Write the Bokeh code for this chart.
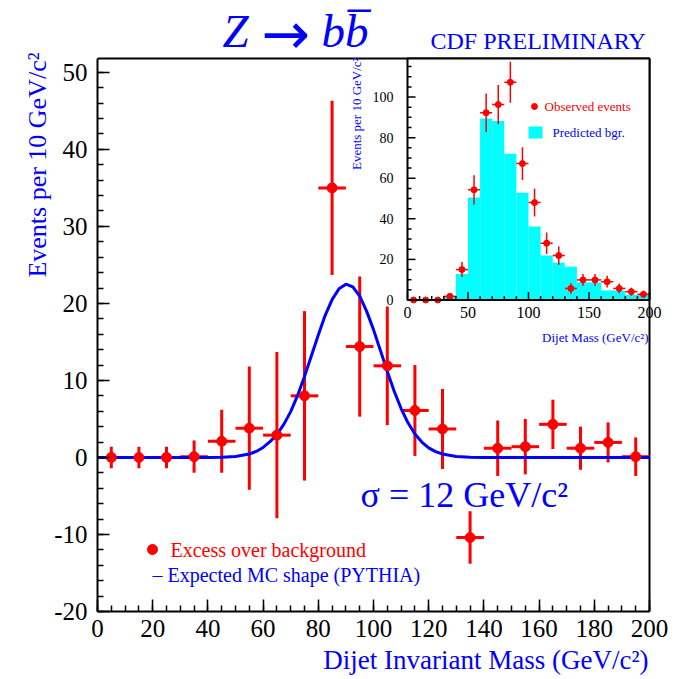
import math
from bokeh.plotting import figure
from bokeh.models import Range1d, FixedTicker, Title, ColumnDataSource, PrintfTickFormatter
from bokeh.core.properties import value
from bokeh.embed import file_html
from bokeh.resources import INLINE

# ---------------- data ----------------
mass = [5, 15, 25, 35, 45, 55, 65, 75, 85, 95, 105, 115, 125, 135, 145, 155, 165, 175, 185, 195]
excess = [0.0, 0.0, 0.0, 0.1, 2.1, 3.8, 2.9, 8.0, 35.0, 14.4, 11.9, 6.1, 3.7, -10.4, 1.2, 1.4, 4.3, 1.2, 1.95, 0.1]
excess_err = [1.4, 1.4, 1.4, 2.1, 4.1, 8.0, 10.8, 11.0, 11.3, 9.1, 7.7, 5.9, 5.2, 3.4, 3.6, 3.6, 3.2, 2.8, 2.6, 2.5]

curve_x = [0, 40, 45, 50, 55, 57.5, 60, 62.5, 65, 67.5, 70, 72.5, 75, 77.5, 80, 82.5, 85, 87.5, 90,
           92.5, 95, 97.5, 100, 102.5, 105, 107.5, 110, 112.5, 115, 117.5, 120, 122.5, 125, 130, 135, 140, 200]
curve_y = [0, 0.01, 0.04, 0.13, 0.45, 0.78, 1.3, 2.05, 3.0, 4.3, 5.95, 8.05, 10.5, 13.2, 15.9, 18.45, 20.5, 21.9, 22.5,
           22.15, 20.95, 19.0, 16.6, 13.9, 11.15, 8.6, 6.35, 4.5, 3.05, 2.0, 1.25, 0.75, 0.45, 0.13, 0.03, 0, 0]

observed = [0, 0, 0, 1.8, 15.0, 54.3, 92.3, 96.3, 107.3, 67.2, 48.0, 28.0, 21.9, 5.7, 9.9, 9.9, 9.0, 5.7, 4.1, 2.8]
observed_err = [0, 0, 0, 1.3, 3.7, 7.2, 9.5, 9.6, 10.1, 8.1, 6.8, 5.3, 4.5, 2.6, 2.9, 2.9, 2.9, 2.4, 2.0, 1.7]
predicted = [0, 0, 0, 1.7, 12.8, 50.5, 89.4, 88.2, 72.1, 52.8, 36.2, 21.9, 18.4, 16.4, 8.7, 8.7, 4.7, 4.7, 2.6, 2.6]

main_xticks = [0, 20, 40, 60, 80, 100, 120, 140, 160, 180, 200]
main_yticks = [-20, -10, 0, 10, 20, 30, 40, 50]
inset_xticks = [0, 50, 100, 150, 200]
inset_yticks = [0, 20, 40, 60, 80, 100]

BIN_HALF = 5

# ---------------- layout constants ----------------
W, H = 678, 679
FL, FB = 97, 611            # frame left / bottom (pixels)
BOX_R, BOX_T = 649, 58      # drawn main box right / top (pixels)
XMIN, XMAX = 0, 200
YMIN, YMAX = -20, 51.8
PXX = (BOX_R - FL) / (XMAX - XMIN)
PXY = (FB - BOX_T) / (YMAX - YMIN)

BLUE = "#0000ff"
RED = "#ff0000"
CYAN = "#00ffff"
FONT = "Liberation Serif"

# inset geometry (pixels of the canvas)
IL, IR, IB, IT = 407, 649, 299.5, 58
IYTOP = 119.0
isx = (IR - IL) / 200.0
isy = (IB - IT) / IYTOP


def dx(X):
    return XMIN + (X - FL) / PXX


def dy(Y):
    return YMIN + (FB - Y) / PXY


def ix(X):
    return (X - IL) / isx


def iy(Y):
    return (IB - Y) / isy


p = figure(width=W, height=H, output_backend="svg", toolbar_location=None,
           x_range=Range1d(XMIN, dx(W)), y_range=Range1d(YMIN, dy(0)),
           min_border_left=FL, min_border_right=0, min_border_top=0, min_border_bottom=H - FB)
p.extra_x_ranges = {"ix": Range1d(ix(FL), ix(W))}
p.extra_y_ranges = {"iy": Range1d(iy(FB), iy(0))}
p.grid.visible = False
p.outline_line_color = None
p.background_fill_color = "white"
p.border_fill_color = "white"

p.xaxis.ticker = FixedTicker(ticks=main_xticks, minor_ticks=list(range(0, 201, 5)))
p.yaxis.ticker = FixedTicker(ticks=main_yticks, minor_ticks=list(range(-20, 52, 2)))
p.xaxis.bounds = (XMIN, XMAX)
p.yaxis.bounds = (YMIN, YMAX)
for ax in (p.xaxis[0], p.yaxis[0]):
    ax.formatter = PrintfTickFormatter(format="%d")
    ax.axis_line_width = 2
    ax.major_tick_in = 12
    ax.major_tick_out = 0
    ax.minor_tick_in = 6
    ax.minor_tick_out = 0
    ax.major_tick_line_width = 1.5
    ax.minor_tick_line_width = 1.5
    ax.major_label_text_font = FONT
    ax.major_label_text_font_size = "25px"
    ax.major_label_text_color = "black"
p.xaxis.major_label_standoff = 8
p.yaxis.major_label_standoff = 10

# axis titles (ROOT style: aligned with the axis end)
p.add_layout(Title(text="Dijet Invariant Mass (GeV/c²)", align="right", offset=30, standoff=6,
                   text_font=FONT, text_font_size="27px", text_font_style="normal", text_color=BLUE), "below")
p.add_layout(Title(text="Events per 10 GeV/c²", align="right", offset=52, standoff=0,
                   text_font=FONT, text_font_size="26px", text_font_style="normal", text_color=BLUE), "left")

# main box top and right border
p.segment(x0=[XMIN, XMAX], y0=[YMAX, YMIN], x1=[XMAX, XMAX], y1=[YMAX, YMAX], line_color="black", line_width=2)

# ---------------- main plot ----------------
src = ColumnDataSource(dict(
    x=mass, y=excess,
    lo=[v - e for v, e in zip(excess, excess_err)],
    hi=[v + e for v, e in zip(excess, excess_err)],
    xl=[m - BIN_HALF for m in mass], xr=[m + BIN_HALF for m in mass]))
p.segment(x0="x", y0="lo", x1="x", y1="hi", source=src, line_color=RED, line_width=3)
p.segment(x0="xl", y0="y", x1="xr", y1="y", source=src, line_color=RED, line_width=3)
p.line(curve_x, curve_y, line_color=BLUE, line_width=3)
p.scatter(x="x", y="y", source=src, size=10, color=RED)

# ---------------- inset ----------------
p.quad(left=[0], right=[200], bottom=[0], top=[IYTOP], fill_color="white", line_color=None,
       x_range_name="ix", y_range_name="iy")
p.quad(left=[m - BIN_HALF for m in mass], right=[m + BIN_HALF for m in mass], bottom=[0] * len(mass),
       top=predicted, fill_color=CYAN, line_color=None, x_range_name="ix", y_range_name="iy")
isrc = ColumnDataSource(dict(
    x=mass, y=observed,
    lo=[v - e for v, e in zip(observed, observed_err)],
    hi=[v + e for v, e in zip(observed, observed_err)],
    xl=[m - BIN_HALF for m in mass], xr=[m + BIN_HALF for m in mass]))
p.segment(x0="x", y0="lo", x1="x", y1="hi", source=isrc, line_color=RED, line_width=1.5,
          x_range_name="ix", y_range_name="iy")
p.segment(x0="xl", y0="y", x1="xr", y1="y", source=isrc, line_color=RED, line_width=1.5,
          x_range_name="ix", y_range_name="iy")
p.scatter(x="x", y="y", source=isrc, size=6, color=RED, x_range_name="ix", y_range_name="iy")

# inset ticks
maj_len_x = 8 / isx
min_len_x = 4 / isx
maj_len_y = 8 / isy
min_len_y = 4 / isy
yt_all = list(range(0, 119, 5))
p.segment(x0=[0] * len(yt_all), y0=yt_all,
          x1=[maj_len_x if v % 20 == 0 else min_len_x for v in yt_all], y1=yt_all,
          line_color="black", line_width=1.5, x_range_name="ix", y_range_name="iy")
xt_all = list(range(0, 201, 10))
p.segment(x0=xt_all, y0=[0] * len(xt_all), x1=xt_all,
          y1=[maj_len_y if v % 50 == 0 else min_len_y for v in xt_all],
          line_color="black", line_width=1.5, x_range_name="ix", y_range_name="iy")
# inset frame
p.quad(left=[0], right=[200], bottom=[0], top=[IYTOP], fill_color=None, line_color="black", line_width=2,
       x_range_name="ix", y_range_name="iy")

# inset tick labels
p.text(x=[ix(IL - 14)] * len(inset_yticks), y=inset_yticks, text=[str(v) for v in inset_yticks],
       text_font=value(FONT), text_font_size="14px", text_color="black", text_align="right",
       text_baseline="middle", x_range_name="ix", y_range_name="iy")
p.text(x=inset_xticks, y=[iy(312)] * len(inset_xticks), text=[str(v) for v in inset_xticks],
       text_font=value(FONT), text_font_size="16px", text_color="black", text_align="center",
       text_baseline="middle", x_range_name="ix", y_range_name="iy")
# inset titles
p.text(x=[ix(648)], y=[iy(337)], text=["Dijet Mass (GeV/c²)"], text_font=value(FONT),
       text_font_size="13px", text_color=BLUE, text_align="right", text_baseline="middle",
       x_range_name="ix", y_range_name="iy")
p.text(x=[ix(356)], y=[iy(57)], text=["Events per 10 GeV/c²"], text_font=value(FONT),
       text_font_size="13px", text_color=BLUE, text_align="right", text_baseline="middle",
       angle=math.pi / 2, x_range_name="ix", y_range_name="iy")
# inset legend
p.scatter(x=[ix(534)], y=[iy(106)], size=6, color=RED, x_range_name="ix", y_range_name="iy")
p.text(x=[ix(544)], y=[iy(106)], text=["Observed events"], text_font=value(FONT), text_font_size="13px",
       text_color=RED, text_align="left", text_baseline="middle", x_range_name="ix", y_range_name="iy")
p.quad(left=[ix(528)], right=[ix(542)], bottom=[iy(138)], top=[iy(126)], fill_color=CYAN, line_color=None,
       x_range_name="ix", y_range_name="iy")
p.text(x=[ix(552)], y=[iy(132)], text=["Predicted bgr."], text_font=value(FONT), text_font_size="13px",
       text_color=BLUE, text_align="left", text_baseline="middle", x_range_name="ix", y_range_name="iy")

# ---------------- main legend and texts ----------------
p.scatter(x=[dx(152)], y=[dy(549)], size=10, color=RED)
p.text(x=[dx(170)], y=[dy(549)], text=["Excess over background"], text_font=value(FONT),
       text_font_size="20px", text_color=RED, text_align="left", text_baseline="middle")
p.text(x=[dx(152)], y=[dy(574)], text=["– Expected MC shape (PYTHIA)"], text_font=value(FONT),
       text_font_size="20px", text_color=BLUE, text_align="left", text_baseline="middle")
p.text(x=[dx(360)], y=[dy(494)], text=["σ = 12 GeV/c²"], text_font=value(FONT),
       text_font_size="36px", text_color=BLUE, text_align="left", text_baseline="middle")

# header texts
p.text(x=[dx(222)], y=[dy(30)], text=["Z"], text_font=value(FONT), text_font_style="italic",
       text_font_size="47px", text_color=BLUE, text_align="left", text_baseline="middle")
p.text(x=[dx(285)], y=[dy(33)], text=["→"], text_font=value("DejaVu Sans"),
       text_font_size="58px", text_color=BLUE, text_align="center", text_baseline="middle")
p.text(x=[dx(368)], y=[dy(30)], text=["bb\u0305"], text_font=value(FONT), text_font_style="italic",
       text_font_size="47px", text_color=BLUE, text_align="right", text_baseline="middle")
p.text(x=[dx(430)], y=[dy(40)], text=["CDF PRELIMINARY"], text_font=value(FONT),
       text_font_size="24px", text_color=BLUE, text_align="left", text_baseline="middle")

open("out.html", "w").write(file_html(p, INLINE))
